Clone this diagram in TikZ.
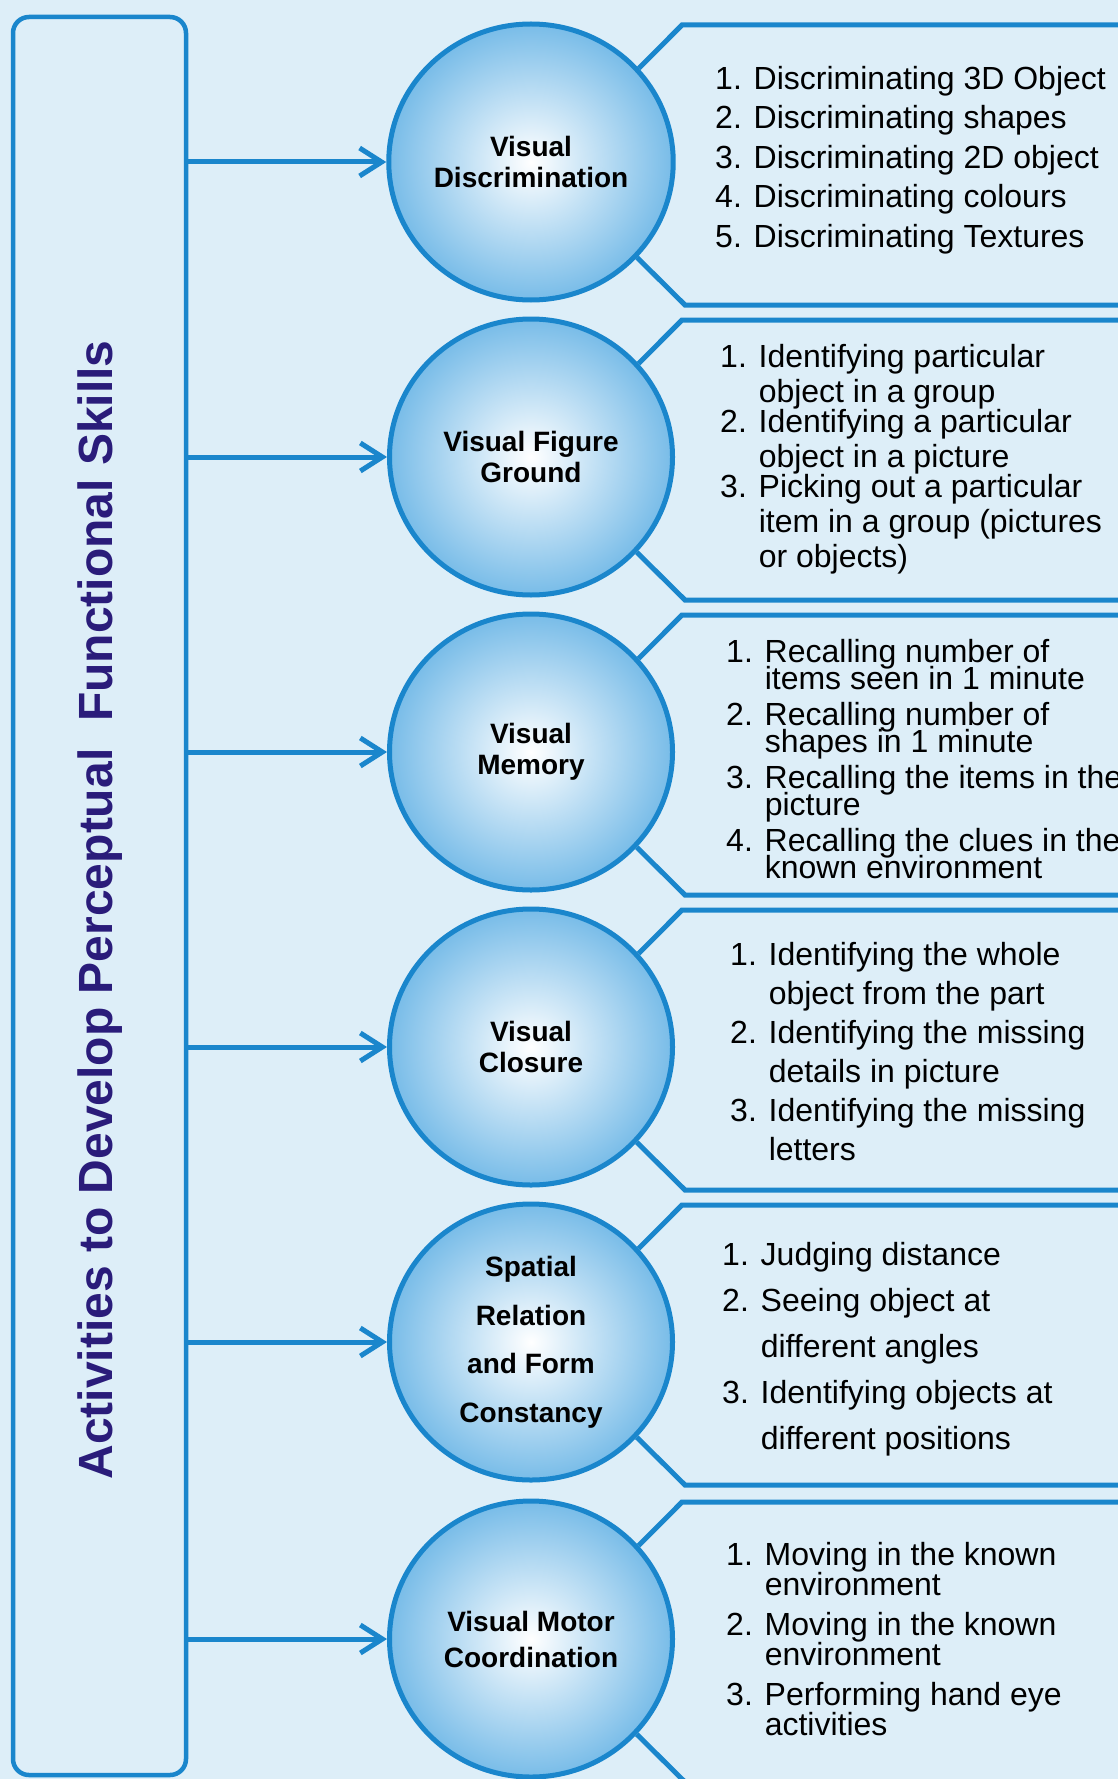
\documentclass[tikz,border=0pt]{standalone}
\usepackage{fontspec}
\setmainfont{Liberation Sans}
\usepackage{tikz}
\usetikzlibrary{shapes,arrows.meta,positioning}

\definecolor{bgblue}{RGB}{221,238,248}
\definecolor{lineblue}{RGB}{26,134,204}
\definecolor{ballblue}{RGB}{120,188,232}
\definecolor{titleblue}{RGB}{42,28,122}

% tight line spacing in the lists must not fall back to \lineskip
\setlength{\lineskiplimit}{-100pt}

\begin{document}
\begin{tikzpicture}[
        x=1pt, y=-1pt,
        frame/.style={draw=lineblue, line width=4.5pt, rounded corners=16pt,
                      minimum width=173pt, minimum height=1758pt},
        heading/.style={text=titleblue, font=\fontsize{48}{50}\selectfont\bfseries},
        skill/.style={ellipse, draw=lineblue, line width=5pt, inner color=white,
                      outer color=ballblue, minimum width=283pt, minimum height=276pt,
                      align=center, font=\fontsize{28}{31}\selectfont\bfseries},
        items/.style={anchor=north west, inner sep=0pt, align=left,
                      font=\fontsize{32}{39.5}\selectfont},
        link/.style={draw=lineblue, line width=5pt,
                     -{Straight Barb[length=22pt,width=28pt]}},
        panel/.style={draw=lineblue, line width=5pt},
    ]
        \useasboundingbox (0,0) rectangle (1118,1779);
        \fill[bgblue] (0,0) rectangle (1118,1779);
        \clip (0,0) rectangle (1118,1779);

        % left column with the vertical heading
        \node[frame] (frame) at (99.5,896) {};
        \node[heading, rotate=90, anchor=base] (title) at (112,910)
            {Activities to Develop Perceptual~ Functional Skills};

        % skill bubbles
        \node[skill] (disc)  at (531,162)  {Visual\\Discrimination};
        \node[skill] (fig)   at (531,457)  {Visual Figure\\Ground};
        \node[skill] (mem)   at (531,752)  {Visual\\Memory};
        \node[skill] (clos)  at (531,1047) {Visual\\Closure};
        \node[skill, font=\fontsize{28}{48.5}\selectfont\bfseries] (space) at (531,1342)
            {Spatial\\Relation\\and Form\\Constancy};
        \node[skill, font=\fontsize{28}{36}\selectfont\bfseries] (motor) at (531,1639)
            {Visual Motor\\Coordination};

        % activity lists (top edge of the first line)
        \node[items] (discitems) at (715,65.7) {1. Discriminating 3D Object\\
            2. Discriminating shapes\\3. Discriminating 2D object\\
            4. Discriminating colours\\5. Discriminating Textures};
        \node[items, font=\fontsize{32}{30}\selectfont] (figitems) at (720,343.7)
            {1. Identifying particular\\[5pt]\phantom{1. }object in a group\\
            2. Identifying a particular\\[5pt]\phantom{2. }object in a picture\\
            3. Picking out a particular\\[5pt]\phantom{3. }item in a group (pictures\\[5pt]
            \phantom{3. }or objects)};
        \node[items, font=\fontsize{32}{27}\selectfont] (memitems) at (726,638.7)
            {1. Recalling number of\\\phantom{1. }items seen in 1 minute\\[9pt]
            2. Recalling number of\\\phantom{2. }shapes in 1 minute\\[9pt]
            3. Recalling the items in the\\\phantom{3. }picture\\[9pt]
            4. Recalling the clues in the\\\phantom{4. }known environment};
        \node[items, font=\fontsize{32}{39}\selectfont] (clositems) at (730,941.7)
            {1. Identifying the whole\\\phantom{1. }object from the part\\
            2. Identifying the missing\\\phantom{2. }details in picture\\
            3. Identifying the missing\\\phantom{3. }letters};
        \node[items, font=\fontsize{32}{46}\selectfont] (spaceitems) at (722,1241.7)
            {1. Judging distance\\2. Seeing object at\\\phantom{2. }different angles\\
            3. Identifying objects at\\\phantom{3. }different positions};
        \node[items, font=\fontsize{32}{30}\selectfont] (motoritems) at (726,1541.7)
            {1. Moving in the known\\\phantom{1. }environment\\[10pt]
            2. Moving in the known\\\phantom{2. }environment\\[10pt]
            3. Performing hand eye\\\phantom{3. }activities};

        % arrows from the column and the bracket around each list
        \foreach \s/\t in {disc/25, fig/320, mem/615, clos/910, space/1205, motor/1502} {
            \draw[link] (frame.east |- \s.west) -- (\s.west);
            \draw[panel] (\s.41) -- (682,\t) -- (1125,\t);
            \draw[panel] (\s.-42) -- (685,{\t+280}) -- (1125,{\t+280});
        }
    \end{tikzpicture}
\end{document}
